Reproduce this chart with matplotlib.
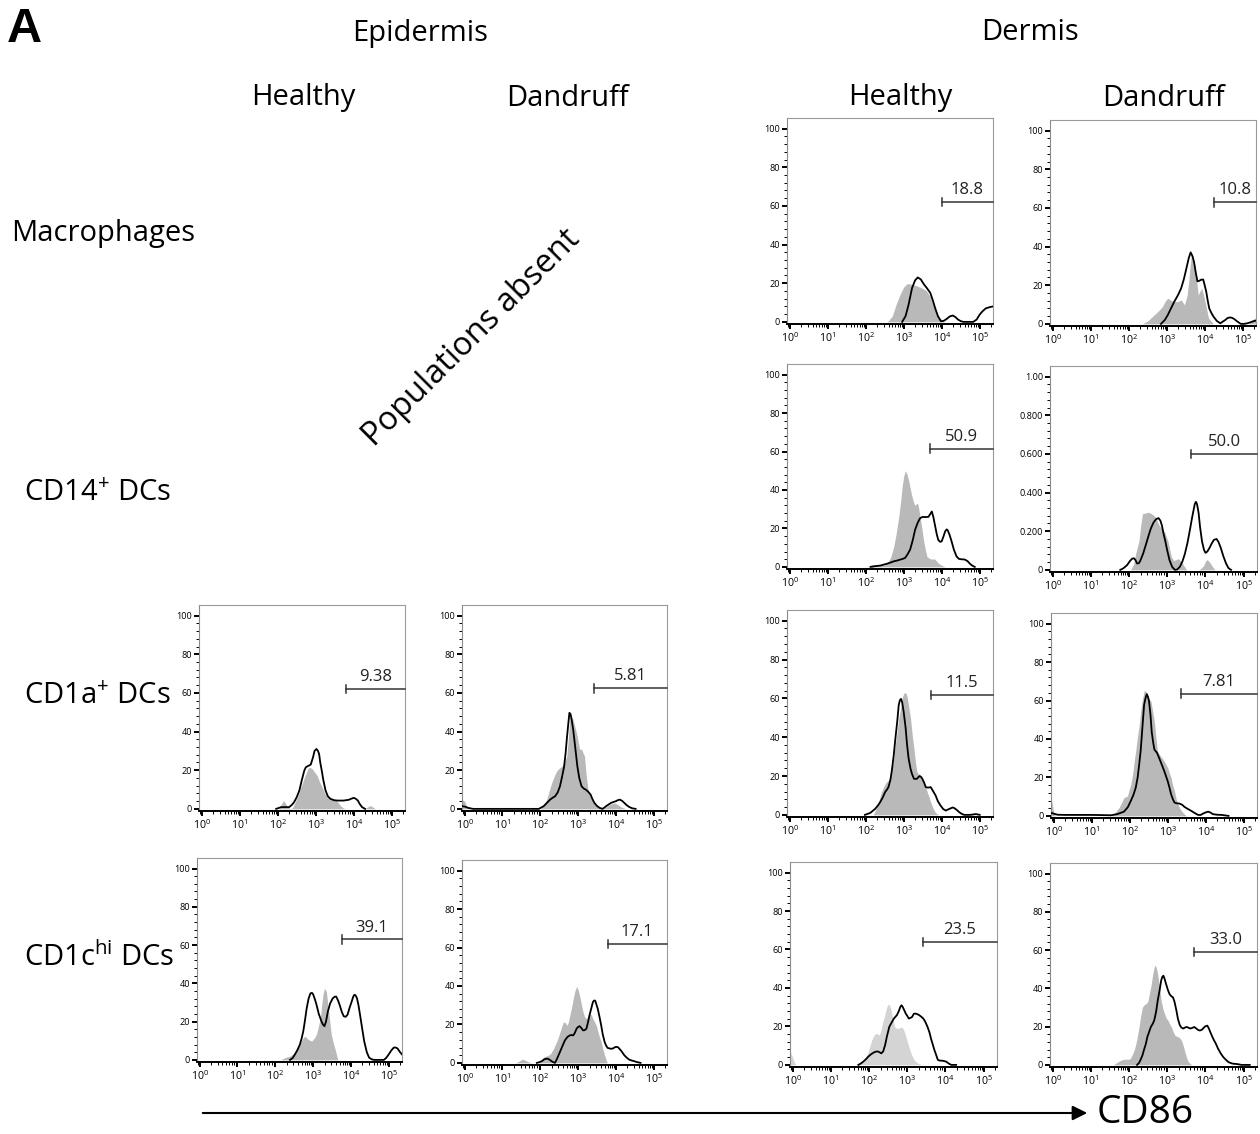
import numpy as np
import matplotlib
matplotlib.use("Agg")
import matplotlib.pyplot as plt
from matplotlib.ticker import FixedLocator

plt.rcParams['font.family'] = ['Open Sans', 'DejaVu Sans']
plt.rcParams['mathtext.fontset'] = 'custom'
plt.rcParams['mathtext.rm'] = 'Open Sans'
plt.rcParams['mathtext.it'] = 'Open Sans:italic'
plt.rcParams['mathtext.bf'] = 'Open Sans:bold'

W, H = 1260, 1134

# ---------------- data (x in log10 CD86 intensity, y in % of max) ----------------
# Dermis / Healthy / Macrophages
DH_MAC_GX = [2.57, 2.7, 2.8, 2.9, 3.0, 3.09, 3.2, 3.35, 3.5, 3.6, 3.7, 3.8, 3.9, 4.0, 4.08]
DH_MAC_GY = [0, 3, 9, 14, 18, 19.8, 19.5, 18.6, 17.3, 16, 13, 8, 3.5, 1, 0]
DH_MAC_BX = [2.96, 3.05, 3.13, 3.22, 3.3, 3.37, 3.45, 3.53, 3.61, 3.7, 3.77, 3.83, 3.9, 3.98, 4.05, 4.13, 4.21,
             4.29, 4.36, 4.43, 4.5, 4.57, 4.7, 4.83, 4.92, 5.0, 5.08, 5.16, 5.26, 5.35]
DH_MAC_BY = [0, 3, 9, 17.5, 21.5, 23, 22, 19.5, 17.5, 15, 11, 7, 3, 0.3, 0.5, 1.5, 2.8, 3.3, 2.5, 1.2, 0.4, 0, 0,
             0, 1.2, 3.8, 5.6, 7, 7.6, 8]

# Dermis / Dandruff / Macrophages
DD_MAC_GX = [2.36, 2.5, 2.67, 2.8, 2.89, 2.97, 3.03, 3.12, 3.2, 3.29, 3.38, 3.47, 3.54, 3.58, 3.61, 3.65, 3.69,
             3.74, 3.79, 3.83, 3.88, 3.92, 3.97, 4.01, 4.1, 4.23, 5.15, 5.28, 5.37]
DD_MAC_GY = [0, 1.5, 4.6, 7, 9, 12, 13.3, 12, 11.5, 11.5, 12.4, 9.8, 15, 22, 28.8, 35.7, 34, 30.5, 22, 15, 17,
             18.4, 15, 11.5, 3, 0, 0, 2.5, 3.5]
DD_MAC_BX = [2.85, 2.95, 3.03, 3.1, 3.2, 3.3, 3.38, 3.45, 3.52, 3.58, 3.63, 3.68, 3.72, 3.77, 3.81, 3.86, 3.9,
             3.96, 4.0, 4.04, 4.08, 4.12, 4.18, 4.23, 4.32, 4.41, 4.48, 4.54, 4.6, 4.65, 4.71, 4.77, 4.86, 4.95,
             5.04, 5.12, 5.2, 5.3, 5.37]
DD_MAC_BY = [0, 2, 4.6, 7.5, 11.5, 15, 18.4, 23, 28.8, 34, 37, 35, 32, 26, 22, 22.3, 22.8, 23, 20, 16.7, 12, 8,
             5.5, 3.8, 1.5, 0.3, 1.2, 2, 3, 3.3, 3.2, 2.6, 1.2, 0, 0, 0.3, 0.8, 1.5, 1.7]

# Dermis / Healthy / CD14+ DCs
DH_CD14_GX = [2.04, 2.15, 2.3, 2.39, 2.48, 2.57, 2.66, 2.74, 2.8, 2.87, 2.92, 2.96, 3.0, 3.04, 3.09, 3.13, 3.18,
              3.22, 3.27, 3.30, 3.34, 3.37, 3.4, 3.43, 3.48, 3.52, 3.57, 3.61, 3.67, 3.74, 3.8, 3.83, 3.87, 3.91,
              4.0, 4.09]
DH_CD14_GY = [0, 1, 1.2, 0.8, 0.8, 2, 5, 10.7, 17, 26, 34, 41.7, 47, 50, 48, 45, 40, 36.5, 33, 32, 33, 32.8, 30,
              26, 20, 14, 9, 5.5, 4.5, 4, 4.2, 3.8, 3, 2, 0.8, 0]
DH_CD14_BX = [2.13, 2.26, 2.39, 2.48, 2.57, 2.66, 2.74, 2.83, 2.91, 2.98, 3.04, 3.1, 3.17, 3.24, 3.30, 3.37, 3.43,
              3.5, 3.57, 3.65, 3.7, 3.74, 3.78, 3.83, 3.87, 3.91, 3.96, 4.0, 4.05, 4.09, 4.13, 4.16, 4.21, 4.26,
              4.32, 4.39, 4.45, 4.5, 4.56, 4.61, 4.68, 4.74, 4.8, 4.87]
DH_CD14_BY = [0, 0.4, 0.7, 1.2, 1.7, 2.3, 2.9, 3.3, 3.8, 4.2, 4.7, 6.5, 9, 14, 19.3, 23, 25.3, 26, 25.9, 26, 27.5,
              28.8, 26, 21, 17, 14, 13, 13.3, 16, 18.4, 19.5, 19, 16.5, 13.3, 9, 5.5, 4.2, 4, 3.9, 3.8, 3, 1.7,
              0.7, 0]

# Dermis / Dandruff / CD14+ DCs (y axis is a fraction)
DD_CD14_GX = [2.04, 2.12, 2.17, 2.22, 2.26, 2.3, 2.35, 2.44, 2.5, 2.57, 2.66, 2.72, 2.79, 2.86, 2.93, 2.97, 3.02,
              3.07, 3.11, 3.16, 3.2, 3.25, 3.29, 3.33, 3.38, 3.44, 3.51, 3.82, 3.9, 3.96, 4.0, 4.04, 4.09, 4.13,
              4.19, 4.25]
DD_CD14_GY = [0, 0.03, 0.08, 0.12, 0.15, 0.22, 0.29, 0.295, 0.298, 0.293, 0.28, 0.26, 0.23, 0.21, 0.197, 0.175,
              0.148, 0.1, 0.066, 0.05, 0.05, 0.055, 0.058, 0.05, 0.041, 0.02, 0, 0, 0.01, 0.025, 0.045, 0.053,
              0.045, 0.033, 0.015, 0]
DD_CD14_BX = [1.77, 1.85, 1.95, 2.02, 2.08, 2.13, 2.17, 2.21, 2.26, 2.30, 2.37, 2.44, 2.5, 2.57, 2.64, 2.71, 2.77,
              2.82, 2.86, 2.9, 2.95, 3.0, 3.06, 3.13, 3.2, 3.26, 3.33, 3.4, 3.46, 3.53, 3.6, 3.65, 3.69, 3.72,
              3.75, 3.78, 3.82, 3.86, 3.91, 3.96, 4.0, 4.05, 4.11, 4.16, 4.22, 4.29, 4.34, 4.40, 4.47, 4.54, 4.6,
              4.67]
DD_CD14_BY = [0, 0.008, 0.025, 0.045, 0.058, 0.06, 0.05, 0.033, 0.035, 0.05, 0.085, 0.13, 0.17, 0.214, 0.245,
              0.263, 0.268, 0.255, 0.23, 0.19, 0.148, 0.1, 0.05, 0.015, 0, 0.002, 0.016, 0.045, 0.082, 0.14,
              0.214, 0.27, 0.31, 0.34, 0.352, 0.34, 0.296, 0.22, 0.148, 0.105, 0.088, 0.095, 0.115, 0.135, 0.155,
              0.16, 0.145, 0.115, 0.07, 0.033, 0.01, 0]

# Epidermis / Healthy / CD1a+ DCs
EH_CD1A_GX = [2.04, 2.1, 2.15, 2.2, 2.26, 2.33, 2.39, 2.48, 2.55, 2.61, 2.68, 2.74, 2.8, 2.83, 2.87, 2.91, 2.97,
              3.04, 3.1, 3.17, 3.24, 3.30, 3.37, 3.43, 3.52, 3.58, 3.65, 3.72, 3.78, 4.3, 4.37, 4.43, 4.5, 4.57]
EH_CD1A_GY = [0, 2.5, 4.3, 3, 0.9, 0.2, 0.5, 4.3, 7.5, 11.2, 15, 18, 21, 21.5, 21.2, 20.7, 19, 17.2, 14, 11.2, 8,
              6, 5.5, 5.2, 4.7, 3.5, 1.7, 0.5, 0, 0, 1, 1.7, 1, 0]
EH_CD1A_BX = [1.96, 2.09, 2.2, 2.3, 2.37, 2.43, 2.5, 2.57, 2.63, 2.7, 2.74, 2.78, 2.83, 2.87, 2.93, 2.97, 3.02,
              3.06, 3.09, 3.12, 3.16, 3.2, 3.26, 3.32, 3.39, 3.48, 3.57, 3.65, 3.74, 3.8, 3.87, 3.93, 4.0, 4.05,
              4.11, 4.16, 4.22, 4.3]
EH_CD1A_BY = [0, 0.9, 0.9, 0.9, 2, 3.4, 6, 9.5, 14.5, 19.8, 21.5, 22, 22.5, 22.9, 26.7, 30, 31, 30, 28.4, 24,
              19.8, 15, 9.5, 6.5, 5.2, 4.5, 4.3, 4.3, 4.3, 4.5, 4.7, 5.2, 5.7, 5.3, 4.3, 2.5, 0.9, 0]

# Epidermis / Dandruff / CD1a+ DCs
ED_CD1A_GX = [-0.07, 0.0, 0.05, 0.12, 2.0, 2.09, 2.17, 2.23, 2.30, 2.37, 2.43, 2.5, 2.57, 2.63, 2.70, 2.74, 2.78,
              2.83, 2.87, 2.92, 2.96, 3.0, 3.04, 3.09, 3.13, 3.17, 3.21, 3.26, 3.35, 3.48, 3.65, 3.74, 3.83, 3.96,
              4.05, 4.13, 4.26]
ED_CD1A_GY = [4.8, 4.0, 1.5, 0, 0, 2, 4.8, 9, 13.4, 17, 19.5, 21, 22, 24, 27.2, 36, 47, 47.5, 46, 42, 39, 35,
              30.7, 31, 29, 27.2, 18, 10, 4.8, 1.4, 0, 1, 2.2, 3.1, 2.2, 1, 0]
ED_CD1A_BX = [-0.07, 0.0, 0.1, 0.22, 1.96, 2.09, 2.17, 2.26, 2.33, 2.39, 2.46, 2.52, 2.58, 2.63, 2.67, 2.70, 2.74,
              2.77, 2.80, 2.83, 2.87, 2.90, 2.94, 2.98, 3.03, 3.09, 3.15, 3.20, 3.26, 3.33, 3.38, 3.43, 3.5, 3.57,
              3.65, 3.74, 3.8, 3.87, 3.94, 4.0, 4.05, 4.1, 4.16, 4.22, 4.28, 4.35, 4.43, 4.52]
ED_CD1A_BY = [1.4, 1.2, 0.5, 0, 0, 1.4, 3, 4.8, 5.8, 6.5, 8.5, 11.7, 17, 22, 29, 35.9, 44, 49.7, 49, 46, 41,
              35.9, 29, 22, 16, 11.7, 10.5, 10, 9, 7.4, 5, 3.1, 1.5, 0.5, 0, 1.4, 2.2, 3.1, 3.6, 4, 4.5, 4.8, 4.2,
              3.1, 2, 1, 0.3, 0]

# Dermis / Healthy / CD1a+ DCs
DH_CD1A_GX = [2.2, 2.27, 2.34, 2.4, 2.47, 2.53, 2.6, 2.65, 2.69, 2.74, 2.78, 2.83, 2.87, 2.92, 2.96, 3.0, 3.03,
              3.06, 3.09, 3.13, 3.18, 3.22, 3.27, 3.31, 3.35, 3.4, 3.44, 3.49, 3.53, 3.58, 3.62, 3.67, 3.71, 3.76,
              3.80, 3.86, 3.91]
DH_CD1A_GY = [0, 3, 6.5, 11, 14.3, 16.5, 17.8, 20, 23.8, 29, 35.9, 43, 49.7, 55, 60, 62.5, 63, 62.5, 60.9, 56,
              49.7, 42, 34, 27, 22, 21, 20.3, 18.5, 16.9, 14.5, 11.7, 9, 6.5, 4, 2.2, 0.8, 0]
DH_CD1A_BX = [1.98, 2.12, 2.25, 2.32, 2.38, 2.45, 2.51, 2.56, 2.6, 2.65, 2.69, 2.74, 2.78, 2.83, 2.87, 2.9, 2.93,
              2.96, 3.0, 3.05, 3.09, 3.13, 3.18, 3.22, 3.27, 3.31, 3.35, 3.39, 3.42, 3.46, 3.49, 3.54, 3.58, 3.64,
              3.71, 3.78, 3.84, 3.9, 3.97, 4.04, 4.11, 4.17, 4.24, 4.29, 4.33, 4.4, 4.46, 4.52, 4.59, 4.75, 4.9,
              5.0]
DH_CD1A_BY = [0, 1, 3.1, 4.8, 6.5, 9, 11.7, 13, 14.3, 18, 23, 31, 39, 48, 56.6, 59, 59.7, 58, 53, 45, 35.9, 29,
              23.8, 21, 18.6, 18.5, 18.6, 19.5, 20, 19.5, 18.6, 16.5, 14.3, 14, 14.3, 12, 10, 7, 4.8, 3, 2.2, 2.8,
              3.4, 3.8, 3.5, 2.5, 1.4, 0.6, 0, 0, 0.4, 0]

# Dermis / Dandruff / CD1a+ DCs
DD_CD1A_GX = [-0.07, -0.03, 0.0, 0.04, 1.5, 1.58, 1.65, 1.72, 1.79, 1.85, 1.94, 2.03, 2.08, 2.12, 2.16, 2.20,
              2.25, 2.29, 2.33, 2.38, 2.42, 2.47, 2.51, 2.56, 2.6, 2.65, 2.69, 2.73, 2.78, 2.82, 2.87, 2.91, 2.96,
              3.0, 3.05, 3.09, 3.13, 3.18, 3.22, 3.27, 3.33, 3.40, 3.49]
DD_CD1A_GY = [9.5, 5.5, 2, 0, 0, 0.9, 2.5, 4.3, 7, 9.5, 10.3, 16.4, 22, 28.4, 34, 40.5, 47, 54.3, 60, 65, 65, 63,
              61, 59.5, 55, 49, 41, 33.6, 32, 31, 29.5, 28.4, 26.5, 25, 22, 19.8, 16, 12.9, 9, 6, 3.5, 1.7, 0]
DD_CD1A_BX = [-0.07, 0.0, 0.1, 0.3, 0.6, 1.0, 1.3, 1.5, 1.67, 1.85, 1.95, 2.03, 2.1, 2.16, 2.21, 2.25, 2.29, 2.32,
              2.35, 2.38, 2.42, 2.45, 2.48, 2.51, 2.55, 2.58, 2.62, 2.65, 2.72, 2.81, 2.91, 3.0, 3.05, 3.09, 3.14,
              3.18, 3.25, 3.31, 3.38, 3.44, 3.53, 3.62, 3.71, 3.8, 3.87, 3.93, 4.0, 4.06, 4.12, 4.19, 4.3, 4.42,
              4.6]
DD_CD1A_BY = [1.5, 1.2, 0.6, 0.5, 0.5, 0.5, 0.4, 0.3, 0.9, 2.2, 4.5, 7.8, 11, 14.7, 20, 26.7, 34, 42, 50, 57.8,
              61.5, 63.3, 62, 59.5, 52, 43.6, 38, 34.5, 32.8, 28.4, 23.3, 18.1, 14.5, 11.2, 8.5, 6.9, 6.5, 6.4,
              5.8, 4.7, 3.6, 2.6, 1.5, 0.5, 0.5, 1.2, 1.8, 2.2, 1.8, 0.9, 0.6, 0.5, 0]

# Epidermis / Healthy / CD1c-hi DCs
EH_CD1C_GX = [2.13, 2.26, 2.39, 2.52, 2.65, 2.72, 2.78, 2.83, 2.87, 2.96, 3.04, 3.09, 3.13, 3.17, 3.2, 3.23,
              3.26, 3.30, 3.35, 3.41, 3.48, 3.53, 3.57, 3.65, 3.7]
EH_CD1C_GY = [0, 1.2, 2, 3.8, 8, 11, 12.4, 11.5, 10.7, 9.8, 11.6, 13.5, 16.7, 20, 23.6, 29, 34, 37.4, 35.7, 25.3,
              13.3, 9, 6.4, 0.3, 0]
EH_CD1C_BX = [2.39, 2.46, 2.52, 2.58, 2.65, 2.7, 2.74, 2.78, 2.83, 2.88, 2.93, 2.97, 3.0, 3.05, 3.09, 3.15, 3.22,
              3.26, 3.30, 3.34, 3.39, 3.45, 3.52, 3.57, 3.61, 3.66, 3.70, 3.76, 3.81, 3.86, 3.91, 3.96, 4.02, 4.06,
              4.09, 4.12, 4.16, 4.2, 4.24, 4.3, 4.35, 4.42, 4.48, 4.55, 4.61, 4.87, 4.93, 5.0, 5.07, 5.13, 5.18,
              5.23, 5.3, 5.35]
EH_CD1C_BY = [0, 1, 2.9, 5, 8, 11.5, 15, 20, 27, 32, 34.8, 35, 34.3, 31.5, 28.8, 24, 20.2, 18.5, 17.6, 20, 25.3,
              29.5, 32.2, 33, 33.1, 31, 28.8, 25, 22.8, 22.5, 23.6, 27, 30.5, 33, 34, 33.8, 32.2, 28.5, 23.6, 16,
              9.8, 4, 1.2, 0.3, 0, 0, 1, 2.9, 5, 6.4, 6.5, 6, 4, 2.9]

# Epidermis / Dandruff / CD1c-hi DCs
ED_CD1C_GX = [1.35, 1.45, 1.52, 1.58, 1.65, 1.72, 1.78, 1.96, 2.04, 2.09, 2.15, 2.22, 2.28, 2.35, 2.43, 2.48,
              2.52, 2.57, 2.61, 2.66, 2.70, 2.74, 2.78, 2.83, 2.87, 2.91, 2.96, 3.0, 3.04, 3.09, 3.13, 3.17, 3.22,
              3.26, 3.30, 3.35, 3.39, 3.43, 3.48, 3.54, 3.61, 3.65, 3.70, 3.77]
ED_CD1C_GY = [0, 1, 1.9, 1.6, 0.9, 0.3, 0, 0, 1.5, 3.1, 3.5, 4, 5, 7.4, 10.9, 13.5, 16, 19, 21.2, 21, 19.5, 21,
              24.7, 29, 33.3, 37, 39.8, 38, 35, 30, 26.4, 24, 23, 24, 25.5, 25, 23, 21.5, 19.5, 15, 10.9, 7.5, 4, 0]
ED_CD1C_BX = [1.91, 1.98, 2.04, 2.1, 2.17, 2.22, 2.26, 2.32, 2.39, 2.45, 2.52, 2.58, 2.65, 2.72, 2.78, 2.83, 2.87,
              2.91, 2.96, 3.0, 3.04, 3.09, 3.13, 3.17, 3.22, 3.26, 3.30, 3.35, 3.39, 3.42, 3.45, 3.49, 3.52, 3.57,
              3.61, 3.65, 3.70, 3.74, 3.78, 3.85, 3.91, 3.96, 4.0, 4.05, 4.09, 4.15, 4.22, 4.28, 4.35, 4.42, 4.48,
              4.56, 4.65]
ED_CD1C_BY = [0, 0.4, 0.9, 1.8, 2.2, 2, 1.4, 0.6, 0, 2.5, 5.7, 8.5, 11.7, 13.5, 14.3, 14.5, 14.3, 15.5, 17.8, 18.7,
              19.1, 18, 16.9, 17, 17.8, 21, 24.7, 28.5, 31.6, 32.4, 32.4, 30, 28.1, 23.5, 19.5, 15, 10.9, 9, 7.8,
              7.4, 7.4, 8, 8.3, 8.2, 7.4, 6, 4, 2.8, 1.7, 1.2, 0.9, 0.4, 0]

# Dermis / Healthy / CD1c-hi DCs
DH_CD1C_GX = [-0.07, -0.02, 0.03, 0.08, 1.72, 1.8, 1.89, 1.98, 2.07, 2.13, 2.18, 2.23, 2.27, 2.31, 2.35, 2.40,
              2.44, 2.48, 2.51, 2.55, 2.58, 2.62, 2.67, 2.72, 2.76, 2.80, 2.85, 2.9, 2.94, 2.99, 3.04, 3.11, 3.18,
              3.25, 3.31, 3.4]
DH_CD1C_GY = [6.9, 5, 2, 0, 0, 1, 2.6, 6.9, 12.9, 15.5, 16.4, 16, 15.5, 18, 21.6, 25, 28.4, 31, 31.6, 30.5, 28.4,
              24, 19.8, 19, 19, 19.2, 19.8, 18.5, 16.4, 13, 9.5, 5.5, 2.6, 1.2, 0.5, 0]
DH_CD1C_BX = [1.72, 1.79, 1.85, 1.92, 1.98, 2.05, 2.12, 2.18, 2.23, 2.28, 2.32, 2.37, 2.42, 2.47, 2.53, 2.59,
              2.65, 2.69, 2.73, 2.78, 2.82, 2.85, 2.88, 2.92, 2.96, 3.0, 3.04, 3.09, 3.13, 3.17, 3.20, 3.25, 3.31,
              3.37, 3.42, 3.47, 3.53, 3.58, 3.62, 3.67, 3.71, 3.76, 3.80, 3.86, 3.91, 3.96, 4.02, 4.08, 4.15, 4.28]
DH_CD1C_BY = [0, 0.8, 1.7, 3, 4.3, 5.5, 6.4, 6.9, 7, 6.5, 6, 7, 10.3, 15, 19.8, 22, 24.1, 25, 25.9, 28, 30.2, 31,
              30.2, 28.5, 26.7, 25.5, 24.1, 24.5, 25, 26.5, 26.7, 26.5, 25.9, 25, 24.1, 22.5, 19.8, 17, 13.8, 10.5,
              7.8, 5, 2.6, 2.2, 2.2, 2, 1.7, 0.8, 0, 0]

# Dermis / Dandruff / CD1c-hi DCs
DD_CD1C_GX = [1.59, 1.65, 1.72, 1.79, 1.86, 1.93, 1.99, 2.04, 2.08, 2.13, 2.17, 2.21, 2.26, 2.3, 2.35, 2.40, 2.44,
              2.49, 2.53, 2.58, 2.62, 2.65, 2.68, 2.71, 2.75, 2.8, 2.84, 2.89, 2.93, 2.97, 3.02, 3.06, 3.11, 3.15,
              3.2, 3.24, 3.29, 3.33, 3.37, 3.42, 3.46, 3.51, 3.55, 3.64]
DD_CD1C_GY = [0, 0.8, 1.7, 2.5, 2.9, 3, 2.9, 3.5, 5.2, 7.5, 10.3, 14, 19.8, 25, 30.2, 31.5, 31.9, 33, 37, 42,
              47.4, 50.5, 52.2, 51, 47.4, 40, 33.6, 29, 26.7, 24.5, 23.3, 21.5, 19.8, 17.5, 15.5, 15, 14.7, 14,
              12.9, 10, 6.9, 3.5, 1.7, 0]
DD_CD1C_BX = [2.21, 2.26, 2.30, 2.35, 2.39, 2.44, 2.48, 2.53, 2.57, 2.62, 2.66, 2.71, 2.75, 2.8, 2.84, 2.87, 2.90,
              2.93, 2.97, 3.02, 3.06, 3.1, 3.15, 3.19, 3.24, 3.28, 3.33, 3.37, 3.42, 3.46, 3.51, 3.55, 3.60, 3.65,
              3.71, 3.76, 3.82, 3.86, 3.91, 3.96, 4.0, 4.05, 4.09, 4.13, 4.18, 4.22, 4.27, 4.33, 4.40, 4.47, 4.54,
              4.6, 4.67, 4.73, 4.80, 4.87, 4.94, 5.16]
DD_CD1C_BY = [0, 1, 2.6, 5, 7.8, 11, 14.7, 17.5, 19.8, 21.5, 23.3, 28, 33.6, 39, 44, 46, 46.6, 45, 42.2, 39, 37,
              36, 35.3, 33, 28.4, 24, 20.7, 19.5, 19, 19.5, 19.8, 19.5, 19, 19.3, 19.8, 19, 18.1, 18, 18.4, 19.5,
              20.2, 20.5, 19, 17, 14.7, 13, 11.2, 8.5, 6, 4, 2.6, 1.5, 0.9, 0.6, 0.5, 0.3, 0, 0]

# Gates: start (log10), height, percentage label
GATE_START = {"DH_MAC": 4.0, "DD_MAC": 4.25, "DH_CD14": 3.68, "DD_CD14": 3.63, "EH_CD1A": 3.8, "ED_CD1A": 3.43,
              "DH_CD1A": 3.73, "DD_CD1A": 3.34, "EH_CD1C": 3.76, "ED_CD1C": 3.78, "DH_CD1C": 3.4, "DD_CD1C": 3.69}
GATE_Y = {"DH_MAC": 62, "DD_MAC": 62.9, "DH_CD14": 61.5, "DD_CD14": 0.60, "EH_CD1A": 62, "ED_CD1A": 62.4,
          "DH_CD1A": 61.7, "DD_CD1A": 63.6, "EH_CD1C": 63, "ED_CD1C": 61.7, "DH_CD1C": 63.8, "DD_CD1C": 59.1}
GATE_LABEL = {"DH_MAC": "18.8", "DD_MAC": "10.8", "DH_CD14": "50.9", "DD_CD14": "50.0", "EH_CD1A": "9.38",
              "ED_CD1A": "5.81", "DH_CD1A": "11.5", "DD_CD1A": "7.81", "EH_CD1C": "39.1", "ED_CD1C": "17.1",
              "DH_CD1C": "23.5", "DD_CD1C": "33.0"}

X_TICKS = [0, 1, 2, 3, 4, 5]
Y_TICKS_PCT = [0, 20, 40, 60, 80, 100]
Y_TICKS_FRAC = [0, 0.2, 0.4, 0.6, 0.8, 1.0]
Y_LABELS_FRAC = ["0", "0.200", "0.400", "0.600", "0.800", "1.00"]

COL_HEADERS = ["Healthy", "Dandruff", "Healthy", "Dandruff"]
GROUP_HEADERS = ["Epidermis", "Dermis"]
ROW_LABELS = ["Macrophages", "CD14$^{+}$ DCs", "CD1a$^{+}$ DCs", "CD1c$^{\\mathrm{hi}}$ DCs"]

# ---------------- layout (pixel boxes: x0, y0, x1, y1) ----------------
PANELS = [
    ("DH_MAC", (787, 118, 993, 324), DH_MAC_GX, DH_MAC_GY, DH_MAC_BX, DH_MAC_BY, False, '#b9b9b9'),
    ("DD_MAC", (1050, 120, 1256, 326), DD_MAC_GX, DD_MAC_GY, DD_MAC_BX, DD_MAC_BY, False, '#b9b9b9'),
    ("DH_CD14", (787, 364, 993, 569), DH_CD14_GX, DH_CD14_GY, DH_CD14_BX, DH_CD14_BY, False, '#b9b9b9'),
    ("DD_CD14", (1050, 366, 1257, 572), DD_CD14_GX, DD_CD14_GY, DD_CD14_BX, DD_CD14_BY, True, '#b9b9b9'),
    ("EH_CD1A", (199, 605, 405, 811), EH_CD1A_GX, EH_CD1A_GY, EH_CD1A_BX, EH_CD1A_BY, False, '#b9b9b9'),
    ("ED_CD1A", (462, 605, 667, 811), ED_CD1A_GX, ED_CD1A_GY, ED_CD1A_BX, ED_CD1A_BY, False, '#b9b9b9'),
    ("DH_CD1A", (787, 610, 993, 817), DH_CD1A_GX, DH_CD1A_GY, DH_CD1A_BX, DH_CD1A_BY, False, '#b9b9b9'),
    ("DD_CD1A", (1051, 613, 1257, 818), DD_CD1A_GX, DD_CD1A_GY, DD_CD1A_BX, DD_CD1A_BY, False, '#b9b9b9'),
    ("EH_CD1C", (197, 858, 402, 1062), EH_CD1C_GX, EH_CD1C_GY, EH_CD1C_BX, EH_CD1C_BY, False, '#b9b9b9'),
    ("ED_CD1C", (462, 860, 667, 1065), ED_CD1C_GX, ED_CD1C_GY, ED_CD1C_BX, ED_CD1C_BY, False, '#b9b9b9'),
    ("DH_CD1C", (790, 862, 997, 1067), DH_CD1C_GX, DH_CD1C_GY, DH_CD1C_BX, DH_CD1C_BY, False, '#d4d4d4'),
    ("DD_CD1C", (1050, 863, 1257, 1067), DD_CD1C_GX, DD_CD1C_GY, DD_CD1C_BX, DD_CD1C_BY, False, '#b9b9b9'),
]

XLIM = (-0.07, 5.35)

fig = plt.figure(figsize=(W / 100, H / 100), dpi=100)


def fx(x):
    return x / W


def fy(y):
    return 1 - y / H


x_minor = [n + np.log10(k) for n in range(-1, 6) for k in range(2, 10)
           if XLIM[0] < n + np.log10(k) < XLIM[1]]

for key, (x0, y0, x1, y1), gx, gy, bx, by, frac, gcol in PANELS:
    ax = fig.add_axes([fx(x0), fy(y1), (x1 - x0) / W, (y1 - y0) / H])
    scale = 0.01 if frac else 1.0
    ax.set_xlim(*XLIM)
    ax.set_ylim(-1.1 * scale, 105.5 * scale)
    ax.fill_between(gx, gy, 0, color=gcol, lw=0, zorder=1)
    ax.plot(bx, by, color='black', lw=1.3, zorder=3, solid_joinstyle='round')
    # gate
    gs, gyv = GATE_START[key], GATE_Y[key]
    ax.plot([gs, XLIM[1]], [gyv, gyv], color='#333333', lw=1.1, zorder=4, clip_on=False)
    ax.plot([gs, gs], [gyv - 2.2 * scale, gyv + 2.2 * scale], color='#333333', lw=1.1, zorder=4)
    ax.text((gs + XLIM[1]) / 2, gyv + 2.0 * scale, GATE_LABEL[key], ha='center', va='bottom',
            fontsize=12, color='#222222')
    # ticks
    ax.xaxis.set_major_locator(FixedLocator(X_TICKS))
    ax.xaxis.set_minor_locator(FixedLocator(x_minor))
    ax.set_xticklabels([r'$10^{%d}$' % t for t in X_TICKS])
    if frac:
        ax.yaxis.set_major_locator(FixedLocator(Y_TICKS_FRAC))
        ax.set_yticklabels(Y_LABELS_FRAC)
        ax.yaxis.set_minor_locator(FixedLocator([v * 0.04 for v in range(26) if v % 5]))
    else:
        ax.yaxis.set_major_locator(FixedLocator(Y_TICKS_PCT))
        ax.yaxis.set_minor_locator(FixedLocator([v * 4 for v in range(26) if v % 5]))
    ax.tick_params(which='major', direction='out', length=3.5, width=1.4, pad=1.5, color='black')
    ax.tick_params(axis='y', which='major', labelsize=6.6)
    ax.tick_params(axis='x', which='major', labelsize=7.6, pad=2)
    ax.tick_params(which='minor', direction='out', length=2.0, width=0.7, color='black')
    for s in ('top', 'right'):
        ax.spines[s].set_color('#9a9a9a')
        ax.spines[s].set_linewidth(0.8)
    ax.spines['left'].set_color('#8a8a8a')
    ax.spines['left'].set_linewidth(0.8)
    ax.spines['bottom'].set_color('black')
    ax.spines['bottom'].set_linewidth(1.4)

# ---------------- texts ----------------
fig.text(fx(7), fy(29), "A", fontsize=35, fontweight='bold', family=['Liberation Sans', 'DejaVu Sans'],
         ha='left', va='center')
fig.text(fx(420), fy(33), GROUP_HEADERS[0], fontsize=21, ha='center', va='center')
fig.text(fx(1030), fy(33), GROUP_HEADERS[1], fontsize=21, ha='center', va='center')
for cx, lab in zip([303, 567, 900, 1163], COL_HEADERS):
    fig.text(fx(cx), fy(98), lab, fontsize=21, ha='center', va='center')
for (lx, ly), lab in zip([(11, 233), (24, 493), (24, 696), (24, 958)], ROW_LABELS):
    fig.text(fx(lx), fy(ly), lab, fontsize=21, ha='left', va='center')
fig.text(fx(472), fy(338), "Populations absent", fontsize=23.5, rotation=45, ha='center', va='center',
         rotation_mode='anchor')

fig.add_artist(matplotlib.patches.FancyArrowPatch((fx(200), fy(1113)), (fx(1090), fy(1113)),
                                                  transform=fig.transFigure, arrowstyle='-|>',
                                                  mutation_scale=22, color='black', lw=1.5))
fig.text(fx(1097), fy(1113), "CD86", fontsize=28, ha='left', va='center')

fig.savefig("out.png", dpi=100)
